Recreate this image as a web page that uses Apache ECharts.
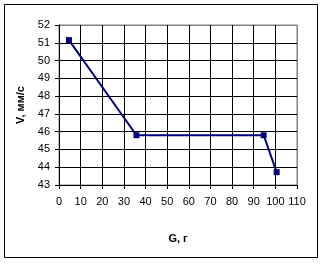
<!DOCTYPE html>
<html><head><meta charset="utf-8">
<script src="https://cdn.jsdelivr.net/npm/echarts@6/dist/echarts.min.js"></script>
<style>html,body{margin:0;padding:0;background:#fff}#c{width:324px;height:265px}</style>
</head><body><div id="c"></div>
<script>
const gValues = [4.6, 35.8, 94.6, 100.6];
const vValues = [51.15, 45.8, 45.8, 43.72];
const xName = 'G, г';
const yName = 'V, мм/с';
const data = gValues.map((g, i) => [g, vValues[i]]);
const chart = echarts.init(document.getElementById('c'), null, {renderer: 'canvas'});
const ygrid = Array(9).fill('#000').concat(['#808080']);
const xgrid = Array(11).fill('#000').concat(['#808080']);
chart.setOption({
  animation: false,
  backgroundColor: '#fff',
  graphic: [{type: 'rect', shape: {x: 4.5, y: 4.5, width: 313, height: 253}, style: {fill: 'none', stroke: '#000', lineWidth: 1}}],
  grid: {left: 59, right: 27, top: 25, bottom: 80, show: true, borderColor: '#808080', borderWidth: 1},
  xAxis: {
    type: 'value', min: 0, max: 110, interval: 10,
    name: xName, nameLocation: 'middle', nameGap: 48,
    nameTextStyle: {fontFamily: 'Liberation Sans', fontSize: 11, fontWeight: 'bold', color: '#000'},
    axisLine: {show: true, lineStyle: {color: '#000', width: 1}},
    axisTick: {show: true, length: 4, lineStyle: {color: '#000'}},
    axisLabel: {fontFamily: 'Liberation Sans', fontSize: 11, color: '#000', margin: 11},
    splitLine: {show: true, lineStyle: {color: xgrid, width: 1}}
  },
  yAxis: {
    type: 'value', min: 43, max: 52, interval: 1,
    name: yName, nameLocation: 'middle', nameGap: 32, nameRotate: 90,
    nameTextStyle: {fontFamily: 'Liberation Sans', fontSize: 11, fontWeight: 'bold', color: '#000'},
    axisLine: {show: true, lineStyle: {color: '#000', width: 1}},
    axisTick: {show: true, length: 4, lineStyle: {color: '#000'}},
    axisLabel: {fontFamily: 'Liberation Sans', fontSize: 11, color: '#000', margin: 9},
    splitLine: {show: true, lineStyle: {color: ygrid, width: 1}}
  },
  series: [{
    type: 'line', data: data,
    lineStyle: {color: '#000080', width: 2},
    itemStyle: {color: '#000080'},
    symbol: 'rect', symbolSize: 6, showSymbol: true
  }]
});
</script></body></html>
